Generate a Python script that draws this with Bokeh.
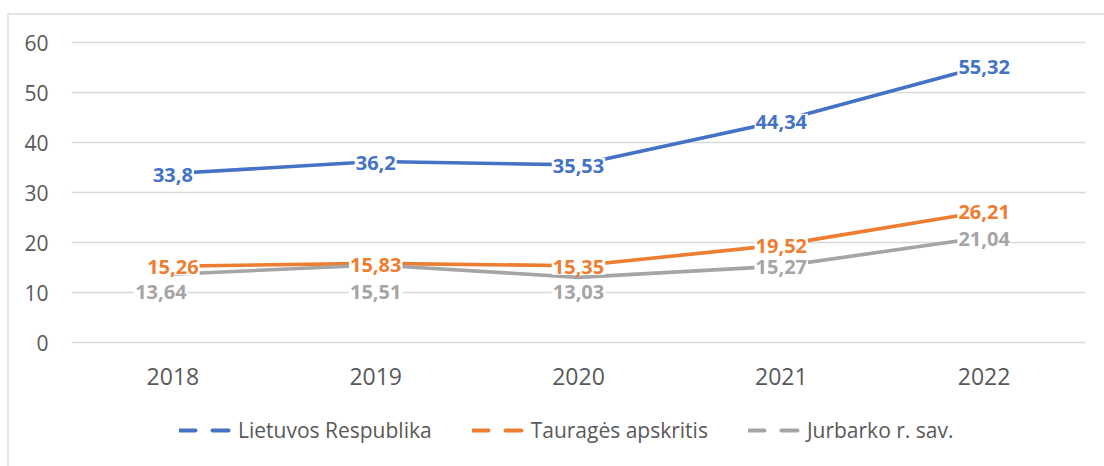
from bokeh.plotting import figure
from bokeh.models import (Range1d, Legend, LegendItem, LinearAxis,
                          FixedTicker, ColumnDataSource)
from bokeh.core.properties import value
from bokeh.embed import file_html
from bokeh.resources import INLINE

# ---- data ----
years = ["2018", "2019", "2020", "2021", "2022"]
series_names = ["Lietuvos Respublika", "Tauragės apskritis", "Jurbarko r. sav."]
lietuvos = [33.8, 36.2, 35.53, 44.34, 55.32]
taurages = [15.26, 15.83, 15.35, 19.52, 26.21]
jurbarko = [13.64, 15.51, 13.03, 15.27, 21.04]
y_ticks = [0, 10, 20, 30, 40, 50, 60]

# ---- style / layout ----
colors = ["#4472C4", "#ED7D31", "#A5A5A5"]
text_color = "#595959"
grid_color = "#D9D9D9"
FONT = "Open Sans"
W, H = 1104, 466
PL, PR, PT, PB = 71, 1085, 42, 342          # plot-area edges in pixels
BORDER_L, BORDER_T = 7.5, 13.5              # chart-area border in pixels
label_dx = [[0, 0, 0, 0, 0], [0, 0, 0, 0, 0], [-12, 0, 0, 0, 0]]
label_dy = [[1, 1, 1, 1, 1], [1, 1.5, 1, 1, 1], [18, 27, 15, 1, 1.5]]

n = len(years)
xs = list(range(n))
ymax = y_ticks[-1]
px_x = (PR - PL) / n
px_y = (PB - PT) / ymax
x_range = Range1d(-0.5 - PL / px_x, n - 0.5 + (W - PR) / px_x)
y_range = Range1d(-(H - PB) / px_y, ymax + PT / px_y)

def xd(px):
    return x_range.start + px / px_x

def yd(py):
    return y_range.end - py / px_y

p = figure(width=W, height=H, x_range=x_range, y_range=y_range,
           output_backend="svg", toolbar_location=None,
           x_axis_location=None, y_axis_location=None, min_border=0)
p.outline_line_color = None
p.background_fill_color = "white"
p.border_fill_color = "white"
p.xgrid.visible = False
p.ygrid.visible = False

# chart area border (left and top edges are visible in the window)
p.segment(x0=[xd(BORDER_L), xd(BORDER_L)], y0=[yd(BORDER_T), yd(BORDER_T)],
          x1=[xd(BORDER_L), xd(W + 20)], y1=[yd(H + 20), yd(BORDER_T)],
          line_color=grid_color, line_width=1.3)

# gridlines across the plot area only
p.segment(x0=[-0.5] * len(y_ticks), x1=[n - 0.5] * len(y_ticks),
          y0=y_ticks, y1=y_ticks, line_color=grid_color, line_width=1.3)

# axes placed inside the frame
yaxis = LinearAxis(fixed_location=-0.5, ticker=FixedTicker(ticks=y_ticks))
yaxis.axis_line_color = None
yaxis.major_tick_line_color = None
yaxis.minor_tick_line_color = None
yaxis.major_tick_out = 0
yaxis.major_tick_in = 0
yaxis.major_label_standoff = 23
yaxis.major_label_text_font = FONT
yaxis.major_label_text_font_size = "21px"
yaxis.major_label_text_color = text_color
p.add_layout(yaxis, "left")

xaxis = LinearAxis(fixed_location=0, ticker=FixedTicker(ticks=xs),
                   major_label_overrides={i: y for i, y in enumerate(years)})
xaxis.axis_line_color = None
xaxis.major_tick_line_color = None
xaxis.minor_tick_line_color = None
xaxis.major_tick_out = 0
xaxis.major_tick_in = 0
xaxis.major_label_standoff = 25
xaxis.major_label_text_font = FONT
xaxis.major_label_text_font_size = "23px"
xaxis.major_label_text_color = text_color
p.add_layout(xaxis, "below")

all_series = [lietuvos, taurages, jurbarko]
for vals, c in zip(all_series, colors):
    p.line(xs, vals, line_color=c, line_width=3.6, line_cap="round", line_join="round")

for i, (vals, c) in enumerate(zip(all_series, colors)):
    src = ColumnDataSource(dict(x=xs, y=vals,
                                t=[str(v).replace(".", ",") for v in vals],
                                dx=label_dx[i], dy=label_dy[i]))
    p.text(x="x", y="y", text="t", source=src, x_offset="dx", y_offset="dy",
           text_align="center", text_baseline="middle",
           text_font=value(FONT), text_font_size="20px", text_font_style="bold",
           text_color=c, background_fill_color="white", padding=1)

# legend with dashed sample lines
nan = float("nan")
items = []
for name, c in zip(series_names, colors):
    r = p.line(x=[nan, nan], y=[nan, nan], line_color=c, line_width=4,
               line_dash="16 17", line_cap="round")
    items.append(LegendItem(label=name, renderers=[r]))
legend = Legend(items=items, orientation="horizontal", location=(179, 22),
                glyph_width=54, glyph_height=20, label_standoff=5, spacing=40,
                padding=0, margin=0, border_line_color=None,
                background_fill_alpha=0, label_text_font=FONT,
                label_text_font_size="21px", label_text_color=text_color,
                label_height=20)
p.add_layout(legend)

open("out.html", "w").write(file_html(p, INLINE))
